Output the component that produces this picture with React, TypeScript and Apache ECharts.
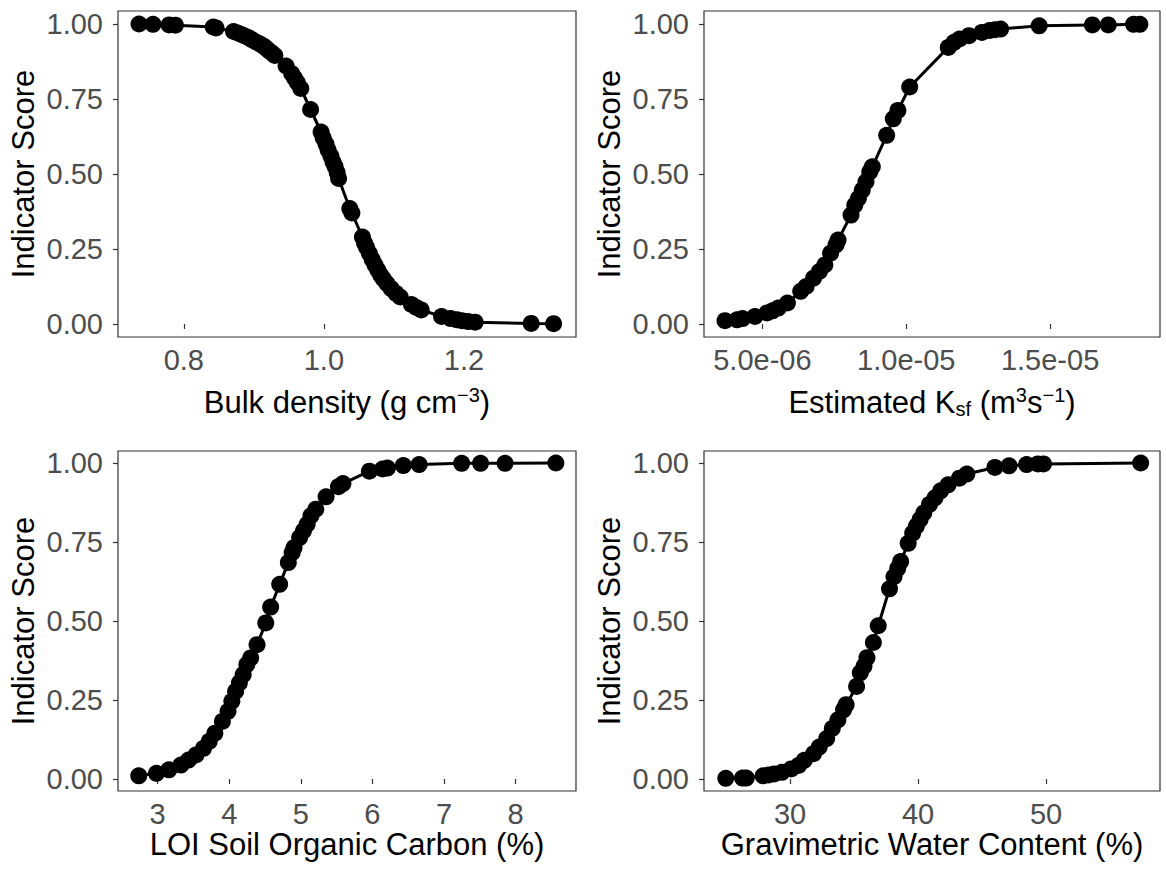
import React, { useEffect, useRef } from 'react';
import * as echarts from 'echarts';

const FONT = '"Liberation Sans", Arial, Helvetica, sans-serif';

// ---- shared y axis ----
const yTicks = [0, 0.25, 0.5, 0.75, 1];
const yTitle = 'Indicator Score';

// ---- Panel 1: Bulk density ----
const bdX = [0.736, 0.756, 0.779, 0.788, 0.842, 0.846, 0.871, 0.877, 0.882, 0.887, 0.892, 0.897, 0.903, 0.909, 0.914, 0.918, 0.922, 0.926, 0.93, 0.946, 0.954, 0.958, 0.962, 0.967, 0.981, 0.996, 0.999, 1.003, 1.006, 1.01, 1.013, 1.016, 1.019, 1.021, 1.037, 1.04, 1.055, 1.058, 1.061, 1.065, 1.069, 1.073, 1.077, 1.081, 1.085, 1.09, 1.096, 1.103, 1.109, 1.125, 1.132, 1.139, 1.168, 1.181, 1.19, 1.197, 1.206, 1.216, 1.296, 1.328];
const bdY = [1.0, 0.999, 0.997, 0.996, 0.99, 0.987, 0.975, 0.97, 0.965, 0.96, 0.955, 0.948, 0.94, 0.933, 0.926, 0.918, 0.91, 0.903, 0.895, 0.86, 0.835, 0.82, 0.805, 0.785, 0.715, 0.64, 0.62, 0.6, 0.58, 0.56, 0.54, 0.525, 0.505, 0.485, 0.385, 0.37, 0.29, 0.27, 0.255, 0.235, 0.215, 0.197, 0.18, 0.163, 0.15, 0.135, 0.118, 0.102, 0.09, 0.065, 0.055, 0.047, 0.025, 0.018, 0.014, 0.011, 0.008, 0.006, 0.002, 0.001];
const bdTicks = [0.8, 1.0, 1.2];
const bdTickLabels = ['0.8', '1.0', '1.2'];

// ---- Panel 2: Estimated Ksf ----
const ksfX = [3.7e-6, 4.12e-6, 4.31e-6, 4.74e-6, 5.16e-6, 5.35e-6, 5.55e-6, 5.87e-6, 6.33e-6, 6.52e-6, 6.78e-6, 6.98e-6, 7.17e-6, 7.37e-6, 7.56e-6, 7.63e-6, 8.08e-6, 8.21e-6, 8.34e-6, 8.47e-6, 8.6e-6, 8.73e-6, 8.82e-6, 9.32e-6, 9.55e-6, 9.71e-6, 1.012e-5, 1.146e-5, 1.166e-5, 1.185e-5, 1.218e-5, 1.263e-5, 1.289e-5, 1.309e-5, 1.328e-5, 1.462e-5, 1.647e-5, 1.702e-5, 1.79e-5, 1.812e-5];
const ksfY = [0.011, 0.014, 0.018, 0.025, 0.037, 0.044, 0.053, 0.07, 0.109, 0.125, 0.153, 0.175, 0.197, 0.236, 0.264, 0.28, 0.363, 0.396, 0.419, 0.446, 0.474, 0.507, 0.524, 0.629, 0.684, 0.712, 0.79, 0.922, 0.939, 0.95, 0.961, 0.972, 0.978, 0.981, 0.983, 0.994, 0.997, 0.997, 0.999, 0.999];
const ksfTicks = [5e-6, 1e-5, 1.5e-5];
const ksfTickLabels = ['5.0e-06', '1.0e-05', '1.5e-05'];

// ---- Panel 3: LOI Soil Organic Carbon ----
const socX = [2.737, 2.984, 3.158, 3.326, 3.432, 3.537, 3.642, 3.721, 3.8, 3.905, 3.984, 4.037, 4.089, 4.142, 4.195, 4.247, 4.3, 4.389, 4.511, 4.579, 4.705, 4.826, 4.879, 4.905, 4.984, 5.037, 5.089, 5.142, 5.21, 5.353, 5.526, 5.589, 5.958, 6.142, 6.21, 6.432, 6.653, 7.247, 7.511, 7.853, 8.563];
const socY = [0.01, 0.018, 0.029, 0.044, 0.06, 0.076, 0.097, 0.119, 0.145, 0.182, 0.214, 0.246, 0.277, 0.304, 0.33, 0.362, 0.383, 0.425, 0.494, 0.544, 0.616, 0.685, 0.716, 0.732, 0.764, 0.785, 0.806, 0.833, 0.854, 0.893, 0.925, 0.935, 0.974, 0.981, 0.984, 0.992, 0.995, 0.999, 0.999, 0.999, 1.0];
const socTicks = [3, 4, 5, 6, 7, 8];
const socTickLabels = ['3', '4', '5', '6', '7', '8'];

// ---- Panel 4: Gravimetric Water Content ----
const gwcX = [24.98, 26.29, 26.58, 27.9, 28.34, 28.77, 29.36, 30.09, 30.67, 31.11, 31.84, 32.28, 32.86, 33.3, 33.74, 34.18, 34.38, 35.2, 35.49, 35.78, 36.01, 36.51, 36.89, 37.77, 38.12, 38.41, 38.64, 39.23, 39.58, 39.87, 40.16, 40.45, 40.89, 41.33, 41.77, 42.35, 43.23, 43.81, 46.0, 47.11, 48.48, 49.36, 49.8, 57.39];
const gwcY = [0.002, 0.003, 0.003, 0.01, 0.013, 0.016, 0.021, 0.032, 0.043, 0.059, 0.08, 0.101, 0.128, 0.16, 0.187, 0.219, 0.235, 0.293, 0.336, 0.357, 0.384, 0.432, 0.485, 0.602, 0.64, 0.666, 0.688, 0.746, 0.778, 0.8, 0.821, 0.842, 0.869, 0.89, 0.912, 0.931, 0.952, 0.965, 0.986, 0.991, 0.995, 0.997, 0.997, 1.0];
const gwcTicks = [30, 40, 50];
const gwcTickLabels = ['30', '40', '50'];

const titles = [
  '{t|Bulk density (g cm}{sup|\u22123}{t|)}',
  '{t|Estimated K}{sub|sf}{t| (m}{sup|3}{t|s}{sup|\u22121}{t|)}',
  '{t|LOI Soil Organic Carbon (%)}',
  '{t|Gravimetric Water Content (%)}',
];

const panels = [
  { xs: bdX, ys: bdY, ticks: bdTicks, labels: bdTickLabels, xmin: 0.706, xmax: 1.36, left: 118, top: 11, width: 458, height: 326, ymin: -0.0433, ymax: 1.0433, nameGap: 48 },
  { xs: ksfX, ys: ksfY, ticks: ksfTicks, labels: ksfTickLabels, xmin: 2.97e-6, xmax: 1.882e-5, left: 704, top: 11, width: 456, height: 326, ymin: -0.0433, ymax: 1.0433, nameGap: 48 },
  { xs: socX, ys: socY, ticks: socTicks, labels: socTickLabels, xmin: 2.447, xmax: 8.844, left: 118, top: 451, width: 458, height: 340, ymin: -0.038, ymax: 1.038, nameGap: 35 },
  { xs: gwcX, ys: gwcY, ticks: gwcTicks, labels: gwcTickLabels, xmin: 23.28, xmax: 58.9, left: 704, top: 451, width: 456, height: 340, ymin: -0.038, ymax: 1.038, nameGap: 35 },
];

const richStyles = {
  t: { fontSize: 31, color: '#000', fontFamily: FONT, lineHeight: 34 },
  sup: { fontSize: 20, color: '#000', fontFamily: FONT, lineHeight: 16, verticalAlign: 'top' },
  sub: { fontSize: 20, color: '#000', fontFamily: FONT, lineHeight: 20, verticalAlign: 'bottom' },
};

export default function App() {
  const ref = useRef<HTMLDivElement>(null);

  useEffect(() => {
    if (!ref.current) return;
    const chart = echarts.init(ref.current, undefined, { renderer: 'svg' });

    const grid: any[] = [];
    const xAxis: any[] = [];
    const yAxis: any[] = [];
    const series: any[] = [];

    panels.forEach((p, i) => {
      grid.push({
        left: p.left, top: p.top, width: p.width, height: p.height,
        show: true, borderColor: '#333333', borderWidth: 1.2, backgroundColor: '#ffffff',
        containLabel: false,
      });
      xAxis.push({
        type: 'value', gridIndex: i, min: p.xmin, max: p.xmax,
        axisLine: { show: false },
        splitLine: { show: false },
        axisTick: { show: true, inside: false, length: 5, lineStyle: { color: '#333333', width: 1.2 }, customValues: p.ticks },
        axisLabel: {
          customValues: p.ticks,
          color: '#4D4D4D', fontSize: 29, fontFamily: FONT, margin: 8,
          formatter: (v: number) => {
            const k = p.ticks.findIndex((t) => Math.abs(t - v) < Math.abs(t) * 1e-6 + 1e-15);
            return k >= 0 ? p.labels[k] : '';
          },
        },
        name: titles[i], nameLocation: 'middle', nameGap: p.nameGap,
        nameTextStyle: { rich: richStyles },
      });
      yAxis.push({
        type: 'value', gridIndex: i, min: p.ymin, max: p.ymax,
        axisLine: { show: false },
        splitLine: { show: false },
        axisTick: { show: true, inside: false, length: 5, lineStyle: { color: '#333333', width: 1.2 }, customValues: yTicks },
        axisLabel: {
          customValues: yTicks,
          color: '#4D4D4D', fontSize: 29, fontFamily: FONT, margin: 15,
          formatter: (v: number) => v.toFixed(2),
        },
        name: yTitle, nameLocation: 'middle', nameGap: 80,
        nameTextStyle: { fontSize: 31, color: '#000', fontFamily: FONT, lineHeight: 30 },
      });
      const data = p.xs.map((x, j) => [x, p.ys[j]]);
      series.push({
        type: 'line', xAxisIndex: i, yAxisIndex: i, data,
        symbol: 'none', lineStyle: { color: '#000', width: 3 }, silent: true, z: 2,
      });
      series.push({
        type: 'scatter', xAxisIndex: i, yAxisIndex: i, data,
        symbol: 'circle', symbolSize: 17, itemStyle: { color: '#000', opacity: 1 }, silent: true, z: 3,
      });
    });

    chart.setOption({
      animation: false,
      backgroundColor: '#ffffff',
      grid, xAxis, yAxis, series,
    });

    return () => chart.dispose();
  }, []);

  return (
    <div
      ref={ref}
      style={{ position: 'absolute', left: 0, top: 0, width: 1166, height: 870, background: '#fff' }}
    />
  );
}
